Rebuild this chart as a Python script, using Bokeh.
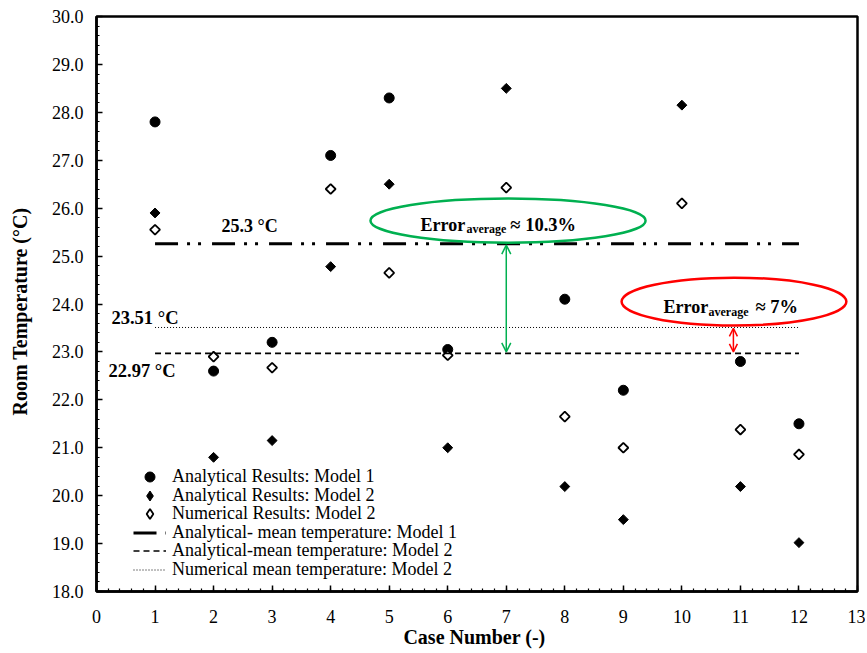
import numpy as np
from bokeh.plotting import figure
from bokeh.models import (Range1d, FixedTicker, NumeralTickFormatter, Legend, LegendItem,
                          Arrow, OpenHead)
from bokeh.core.properties import value
from bokeh.embed import file_html
from bokeh.resources import INLINE

# ---------------- data ----------------
cases = [1, 2, 3, 4, 5, 6, 7, 8, 9, 10, 11, 12]
analytical_m1 = [27.8, 22.6, 23.2, 27.1, 28.3, 23.05, float("nan"), 24.1, 22.2, float("nan"), 22.8, 21.5]
analytical_m2 = [25.9, 20.8, 21.15, 24.78, 26.5, 21.0, 28.5, 20.19, 19.5, 28.15, 20.19, 19.02]
numerical_m2 = [25.55, 22.9, 22.67, 26.4, 24.65, 22.93, 26.43, 21.65, 21.0, 26.1, 21.38, 20.86]

mean_x = [1, 12]
mean_analytical_m1 = 25.26
mean_analytical_m2 = 22.97
mean_numerical_m2 = 23.51

mean_labels = ["25.3 °C", "23.51 °C", "22.97 °C"]
error_green = ["Error", "average", "≈ 10.3%"]
error_red = ["Error", "average", "≈ 7%"]
legend_labels = ["Analytical Results: Model 1",
                 "Analytical Results: Model 2",
                 "Numerical Results: Model 2",
                 "Analytical- mean temperature: Model 1",
                 "Analytical-mean temperature: Model 2",
                 "Numerical mean temperature: Model 2"]

y_ticks = list(range(18, 31))
x_ticks = list(range(0, 14))

FONT = "Liberation Serif"
GREEN = "#00B050"
RED = "#FF0000"
NAN = float("nan")

p = figure(width=865, height=651, output_backend="svg", toolbar_location=None,
           x_range=Range1d(0, 13), y_range=Range1d(18, 30),
           frame_width=761, frame_height=575,
           min_border_left=96, min_border_top=16, min_border_right=8, min_border_bottom=60)
p.grid.visible = False
p.outline_line_color = "black"
p.outline_line_width = 2.5
p.background_fill_color = "white"
p.border_fill_color = "white"

minor_x = [round(i * 0.2, 2) for i in range(0, 66)]
minor_y = [round(18 + i * 0.2, 2) for i in range(0, 61)]
p.xaxis.ticker = FixedTicker(ticks=x_ticks, minor_ticks=minor_x)
p.yaxis.ticker = FixedTicker(ticks=y_ticks, minor_ticks=minor_y)
p.yaxis.formatter = NumeralTickFormatter(format="0.0")

for ax in (p.xaxis[0], p.yaxis[0]):
    ax.axis_line_width = 2.5
    ax.axis_line_color = "black"
    ax.major_tick_in = 6
    ax.major_tick_out = 0
    ax.minor_tick_in = 3
    ax.minor_tick_out = 0
    ax.major_tick_line_width = 1.5
    ax.minor_tick_line_width = 1.2
    ax.major_label_text_font = FONT
    ax.major_label_text_font_size = "18px"
    ax.major_label_text_color = "black"
    ax.axis_label_text_font = FONT
    ax.axis_label_text_font_style = "bold"
    ax.axis_label_text_font_size = "20px"
    ax.axis_label_text_color = "black"

p.xaxis.axis_label = "Case Number  (-)"
p.yaxis.axis_label = "Room Temperature    (°C)"
p.xaxis.major_label_standoff = 18
p.xaxis.axis_label_standoff = 0
p.yaxis.major_label_standoff = 13
p.yaxis.axis_label_standoff = 18

# ---------------- series ----------------
r_m1 = p.scatter(cases, analytical_m1, marker="circle", size=10, fill_color="black", line_color="black")
p.scatter(cases, analytical_m2, marker="square", size=7, angle=np.pi / 4,
          fill_color="black", line_color="black")
p.scatter(cases, numerical_m2, marker="square", size=7, angle=np.pi / 4,
          fill_color="white", line_color="black", line_width=1.8)
# legend proxies (diamond glyph, nothing drawn in the plot)
r_m2 = p.scatter([NAN], [NAN], marker="diamond", size=10, fill_color="black", line_color="black")
r_n2 = p.scatter([NAN], [NAN], marker="diamond", size=10, fill_color="white", line_color="black",
                 line_width=1.8)

r_l1 = p.line(mean_x, [mean_analytical_m1] * 2, line_color="black", line_width=3,
              line_dash="23 9 3 8 3 11")
r_l2 = p.line(mean_x, [mean_analytical_m2] * 2, line_color="black", line_width=1.6,
              line_dash="6 4")
r_l3 = p.line(mean_x, [mean_numerical_m2] * 2, line_color="black", line_width=1,
              line_dash="1 2")

# ---------------- annotations ----------------
p.ellipse(x=[7.03], y=[25.74], width=[4.70], height=[0.92], fill_alpha=0,
          line_color=GREEN, line_width=2.5)
p.ellipse(x=[10.89], y=[24.05], width=[3.84], height=[1.0], fill_alpha=0,
          line_color=RED, line_width=2.5)

p.add_layout(Arrow(x_start=7.0, y_start=mean_analytical_m1 - 0.03, x_end=7.0, y_end=mean_analytical_m2 + 0.03,
                   line_color=GREEN, line_width=1.5,
                   start=OpenHead(size=9, line_color=GREEN, line_width=1.5),
                   end=OpenHead(size=9, line_color=GREEN, line_width=1.5)))
p.add_layout(Arrow(x_start=10.88, y_start=mean_numerical_m2 - 0.02, x_end=10.88, y_end=mean_analytical_m2 + 0.03,
                   line_color=RED, line_width=1.5,
                   start=OpenHead(size=8, line_color=RED, line_width=1.5),
                   end=OpenHead(size=8, line_color=RED, line_width=1.5)))

def txt(x, y, s, size, baseline="alphabetic"):
    p.text(x=[x], y=[y], text=[s], text_font=value(FONT), text_font_style="bold",
           text_font_size=size, text_color="black", text_align="left", text_baseline=baseline)

# green error
txt(5.535, 25.64, error_green[0], "18px")
txt(6.32, 25.555, error_green[1], "12px")
txt(7.07, 25.64, error_green[2], "18.5px")
# red error
txt(9.686, 23.93, error_red[0], "18px")
txt(10.455, 23.84, error_red[1], "12px")
txt(11.257, 23.93, error_red[2], "18.5px")
# mean labels
txt(2.135, 25.63, mean_labels[0], "18px", "middle")
txt(0.256, 23.70, mean_labels[1], "18.5px", "middle")
txt(0.205, 22.61, mean_labels[2], "18.5px", "middle")

# ---------------- legend (one single-item legend per row, tight row pitch) ----------------
legend_renderers = [r_m1, r_m2, r_n2, r_l1, r_l2, r_l3]
row_offsets = [102, 83.5, 65, 46.5, 28, 9.5]   # px above the frame bottom
for label, rend, off in zip(legend_labels, legend_renderers, row_offsets):
    lg = Legend(items=[LegendItem(label=label, renderers=[rend])], location=(37, off))
    lg.label_text_font = FONT
    lg.label_text_font_size = "18px"
    lg.label_text_color = "black"
    lg.glyph_width = 33
    lg.glyph_height = 25
    lg.label_height = 18
    lg.label_standoff = 6
    lg.spacing = 0
    lg.padding = 0
    lg.margin = 0
    lg.border_line_alpha = 0
    lg.background_fill_alpha = 0
    p.add_layout(lg, "center")

open("out.html", "w").write(file_html(p, INLINE))
